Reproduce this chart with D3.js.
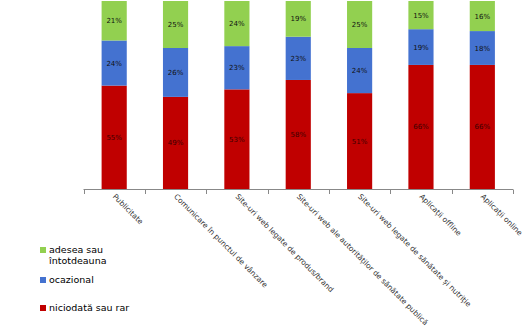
<!DOCTYPE html>
<html><head><meta charset="utf-8">
<script src="https://cdn.jsdelivr.net/npm/d3@7"></script>
<style>body{margin:0;background:#fff}svg{display:block}</style>
</head><body>
<script>
const categories = ["Publicitate","Comunicare în punctul de vânzare","Site-uri web legate de produs/brand","Site-uri web ale autorităților de sănătate publică","Site-uri web legate de sănătate și nutriție","Aplicații offline","Aplicații online"];
const rar = [55,49,53,58,51,66,66];
const ocazional = [24,26,23,23,24,19,18];
const adesea = [21,25,24,19,25,15,16];
const seriesNames = ["niciodată sau rar","ocazional","adesea sau întotdeauna"];
const colors = ["#C00000","#4472D0","#92D050"];

const W=528,H=332;
const svg=d3.select("body").append("svg").attr("width",W).attr("height",H);
const x=d3.scaleBand().domain(categories).range([83.5,513]).paddingInner(0.59).paddingOuter(0.295);
const y=d3.scaleLinear().domain([0,100]).range([189,1]);

const rows=categories.map((c,i)=>({cat:c,s0:rar[i],s1:ocazional[i],s2:adesea[i]}));
const stack=d3.stack().keys(["s0","s1","s2"])(rows);

const g=svg.append("g");
stack.forEach((layer,k)=>{
  const lg=g.append("g");
  lg.selectAll("rect").data(layer).enter().append("rect")
    .attr("x",d=>x(d.data.cat)).attr("width",x.bandwidth())
    .attr("y",d=>y(d[1])).attr("height",d=>y(d[0])-y(d[1]))
    .attr("fill",colors[k]);
  lg.selectAll("text").data(layer).enter().append("text")
    .attr("x",d=>x(d.data.cat)+x.bandwidth()/2)
    .attr("y",d=>(y(d[0])+y(d[1]))/2+2.5)
    .attr("text-anchor","middle")
    .attr("font-family","DejaVu Sans, Verdana, sans-serif")
    .attr("font-size","7px")
    .attr("fill", k===0?"#3a0000":"#111")
    .text(d=>(d[1]-d[0])+"%");
});

// axis
const ax=svg.append("g").attr("transform","translate(0,189)");
const edges=[83.5].concat(categories.map(c=>x(c)-x.step()*x.paddingInner()/2+x.step()));
// compute tick positions at band boundaries
const step=x.step();
const bounds=d3.range(categories.length+1).map(i=>83.5+i*step);
ax.append("line").attr("x1",83.5).attr("x2",513).attr("y1",0.5).attr("y2",0.5).attr("stroke","#888").attr("stroke-width",1);
ax.selectAll(".tk").data(bounds).enter().append("line")
  .attr("x1",d=>Math.round(d)+0.5).attr("x2",d=>Math.round(d)+0.5).attr("y1",0.5).attr("y2",5).attr("stroke","#888");
ax.selectAll(".lb").data(categories).enter().append("text")
  .attr("transform",d=>`translate(${x(d)+x.bandwidth()/2-2},${8}) rotate(45)`)
  .attr("font-family","DejaVu Sans, Verdana, sans-serif")
  .attr("font-size","7.5px")
  .attr("fill","#333")
  .attr("text-anchor","start")
  .text(d=>d);

// legend
const leg=svg.append("g").attr("font-family","DejaVu Sans, Verdana, sans-serif").attr("font-size","9.5px").attr("fill","#000");
const legItems=[{c:colors[2],lines:["adesea sau","întotdeauna"],y:253},{c:colors[1],lines:["ocazional"],y:283},{c:colors[0],lines:["niciodată sau rar"],y:311}];
legItems.forEach(it=>{
  leg.append("rect").attr("x",40).attr("y",it.y-6).attr("width",6).attr("height",6).attr("fill",it.c);
  const t=leg.append("text").attr("x",49).attr("y",it.y);
  it.lines.forEach((l,i)=>t.append("tspan").attr("x",49).attr("dy",i?11:0).text(l));
});
</script>
</body></html>
